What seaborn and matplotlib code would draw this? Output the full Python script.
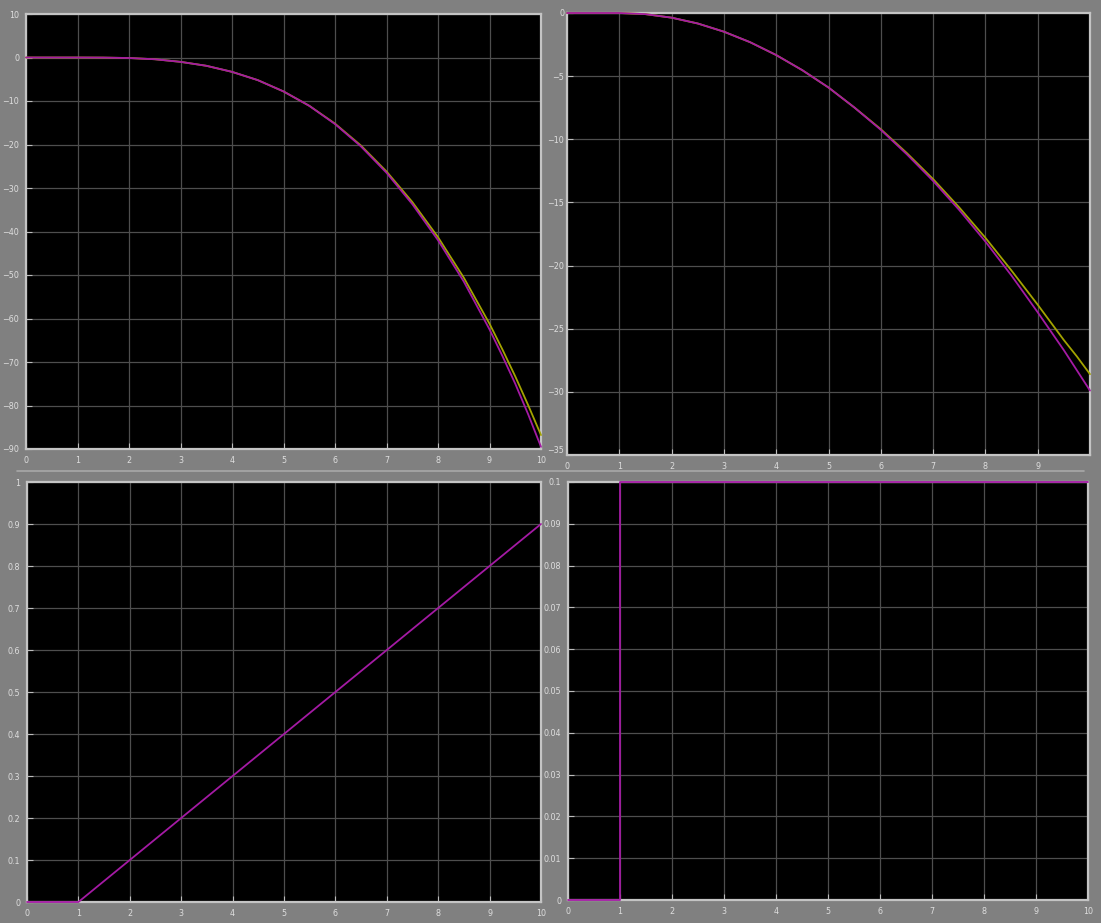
import matplotlib
matplotlib.use("Agg")
import matplotlib.pyplot as plt
import seaborn as sns
import pandas as pd

# ---- data -------------------------------------------------------------
t_pts = [0, 0.5, 1, 1.5, 2, 2.5, 3, 3.5, 4, 4.5, 5,
         5.5, 6, 6.5, 7, 7.5, 8, 8.5, 9, 9.25, 9.5, 9.75, 10]

# position (top-left)
pos_ref = [0, 0, 0, -0.02, -0.12, -0.4, -1.0, -1.9, -3.3, -5.2, -7.8,
           -11.1, -15.3, -20.4, -26.5, -33.7, -42.0, -51.5, -62.5,
           -68.6, -75.0, -82.0, -89.5]
pos_sim = [0, 0, 0, -0.02, -0.12, -0.4, -1.0, -1.9, -3.3, -5.2, -7.8,
           -11.1, -15.2, -20.2, -26.2, -33.2, -41.3, -50.6, -61.2,
           -67.1, -73.3, -79.9, -86.8]

# velocity (top-right)
vel_ref = [0, 0, 0, -0.09, -0.37, -0.83, -1.48, -2.31, -3.33, -4.53, -5.9,
           -7.5, -9.25, -11.2, -13.3, -15.6, -18.1, -20.8, -23.7,
           -25.2, -26.7, -28.3, -29.9]
vel_sim = [0, 0, 0, -0.09, -0.37, -0.83, -1.48, -2.31, -3.33, -4.53, -5.9,
           -7.5, -9.2, -11.1, -13.15, -15.4, -17.8, -20.4, -23.1,
           -24.5, -25.9, -27.2, -28.6]

# ramp (bottom-left)
ramp_t = [0, 1, 10]
ramp_v = [0, 0, 0.9]

# step (bottom-right)
step_t = [0, 1, 1, 10]
step_v = [0, 0, 0.1, 0.1]

# axis ticks
x_ticks = list(range(0, 11))
pos_yticks = list(range(10, -91, -10))
vel_yticks = list(range(0, -36, -5))
ramp_yticks = [round(0.1 * i, 1) for i in range(11)]
step_yticks = [round(0.01 * i, 2) for i in range(11)]

# ---- style ------------------------------------------------------------
sns.set_theme(style="dark")
plt.rcParams["font.family"] = ["DejaVu Sans"]

BG = "#808080"
FRAME = "#c4c4c4"
GRID = "#4e4e4e"
TXT = "#dedede"
MAG = "#a41aa4"
YEL = "#a3a300"

W, H = 1101, 923
fig = plt.figure(figsize=(W / 100, H / 100), dpi=100, facecolor=BG)


def box(left, top, right, bottom):
    return [left / W, 1 - bottom / H, (right - left) / W, (bottom - top) / H]


def style(ax, yticks, ylim):
    ax.set_facecolor("black")
    ax.set_xlim(0, 10)
    ax.set_ylim(*ylim)
    ax.set_xticks(x_ticks)
    ax.set_yticks(yticks)
    ax.grid(True, color=GRID, lw=0.9)
    ax.tick_params(axis="both", direction="in", length=4, width=0.8,
                   color="#bdbdbd", labelcolor=TXT, labelsize=5.8, pad=5,
                   bottom=True, left=True)
    for s in ax.spines.values():
        s.set_color(FRAME)
        s.set_linewidth(1.6)
        s.set_zorder(1)
    ax.set_xlabel("")
    ax.set_ylabel("")
    if ax.get_legend():
        ax.get_legend().remove()


def draw(ax, t, series):
    for vals, col in series:
        df = pd.DataFrame({"t": t, "v": vals})
        sns.lineplot(data=df, x="t", y="v", ax=ax, color=col, lw=1.3,
                     estimator=None, sort=False, clip_on=False, zorder=3)


ax1 = fig.add_axes(box(26, 14, 541, 449))
draw(ax1, t_pts, [(pos_sim, YEL), (pos_ref, MAG)])
style(ax1, pos_yticks, (-90, 10))

ax2 = fig.add_axes(box(567, 13, 1090, 455))
draw(ax2, t_pts, [(vel_sim, YEL), (vel_ref, MAG)])
style(ax2, vel_yticks, (-35, 0))
ax2.tick_params(axis="y", pad=2)
ax2.set_xticklabels([str(v) for v in x_ticks[:-1]] + [""])
# bottom y label sits just above the corner so it clears the neighbour's "10"
ax2.get_yticklabels()[-1].set_verticalalignment("bottom")

ax3 = fig.add_axes(box(27, 482, 541, 902))
draw(ax3, ramp_t, [(ramp_v, MAG)])
style(ax3, ramp_yticks, (0, 1))
ax3.set_yticklabels(["0"] + [f"{v:g}" for v in ramp_yticks[1:]])

ax4 = fig.add_axes(box(568, 482, 1088, 900))
draw(ax4, step_t, [(step_v, MAG)])
style(ax4, step_yticks, (0, 0.1))
ax4.set_yticklabels(["0"] + [f"{v:g}" for v in step_yticks[1:]])

# panel separator
fig.add_artist(plt.Line2D([0.015, 0.985], [1 - 471 / H, 1 - 471 / H],
                          transform=fig.transFigure, color="#a8a8a8", lw=1.2))

fig.savefig("out.png", dpi=100, facecolor=BG)
